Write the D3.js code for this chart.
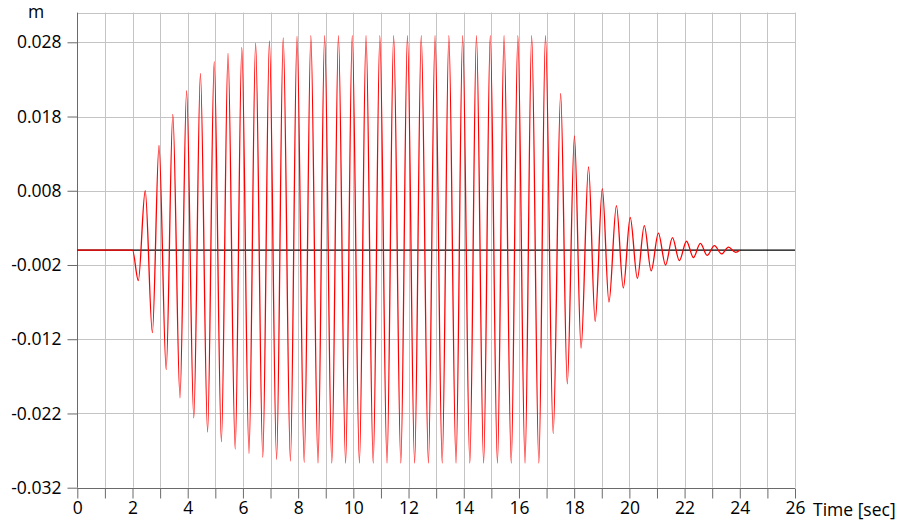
<!DOCTYPE html>
<meta charset="utf-8">
<style>
body { margin: 0; background: #fff; }
.tick text, .lbl { font-family: "Open Sans", sans-serif; font-size: 17.5px; fill: #000; }
.grid line { stroke: #c4c4c4; stroke-width: 1; }
.axis path, .axis line { stroke: #6a6a6a; }
</style>
<svg width="898" height="521"></svg>
<script src="https://cdn.jsdelivr.net/npm/d3@7"></script>
<script>
// displacement record: rest, then extrema (sec, m)
var restT = [0, 2.00];
var restV = [0, 0];
var peakT = [2.46, 2.96, 3.46, 3.96, 4.46, 4.96, 5.46, 5.96, 6.46, 6.96, 7.46, 7.96, 8.46, 8.96,
             9.46, 9.96, 10.46, 10.96, 11.46, 11.96, 12.46, 12.96, 13.46, 13.96, 14.46, 14.96,
             15.46, 15.96, 16.46, 16.96,
             17.51, 18.01, 18.52, 19.02, 19.53, 20.03, 20.54, 21.05, 21.56, 22.07, 22.57, 23.08, 23.59];
var peakV = [0.0080, 0.0141, 0.0183, 0.0215, 0.0238, 0.0254, 0.0265, 0.0273, 0.0279, 0.0282, 0.0286, 0.0288, 0.0289, 0.0289,
             0.0289, 0.0289, 0.0289, 0.0289, 0.0289, 0.0289, 0.0289, 0.0289, 0.0289, 0.0289, 0.0289, 0.0289,
             0.0289, 0.0289, 0.0289, 0.0289,
             0.0211, 0.0154, 0.0112, 0.0083, 0.0060, 0.0044, 0.0033, 0.0023, 0.0017, 0.0012, 0.0009, 0.0006, 0.0004];
var troughT = [2.21, 2.72, 3.22, 3.72, 4.22, 4.72, 5.22, 5.72, 6.22, 6.72, 7.22, 7.72, 8.22, 8.72,
               9.22, 9.72, 10.22, 10.72, 11.22, 11.72, 12.22, 12.72, 13.22, 13.72, 14.22, 14.72,
               15.22, 15.72, 16.22, 16.72,
               17.24, 17.75, 18.25, 18.76, 19.26, 19.78, 20.29, 20.79, 21.31, 21.81, 22.32, 22.82, 23.34, 23.85];
var troughV = [-0.0041, -0.0111, -0.0161, -0.0199, -0.0226, -0.0245, -0.0258, -0.0268, -0.0274, -0.0279, -0.0282, -0.0284, -0.0286, -0.0287,
               -0.0287, -0.0287, -0.0287, -0.0287, -0.0287, -0.0287, -0.0287, -0.0287, -0.0287, -0.0287, -0.0287, -0.0287,
               -0.0287, -0.0287, -0.0287, -0.0287,
               -0.0247, -0.0180, -0.0132, -0.0096, -0.0070, -0.0051, -0.0038, -0.0028, -0.0020, -0.0014, -0.0010, -0.0007, -0.0005, -0.0003];
var endT = [24.00];
var endV = [0];

var yTicks = [-0.032, -0.022, -0.012, -0.002, 0.008, 0.018, 0.028];

var svg = d3.select("svg");
var x = d3.scaleLinear().domain([0, 26]).range([77.3, 795]);
var y = d3.scaleLinear().domain([-0.032, 0.032]).range([487.7, 12.6]);

// merge all points in time order
var pts = [];
function add(T, V) { T.forEach(function(t, i) { pts.push([t, V[i]]); }); }
add(restT, restV); add(peakT, peakV); add(troughT, troughV); add(endT, endV);
pts.sort(function(a, b) { return a[0] - b[0]; });

// grid
var grid = svg.append("g").attr("class", "grid");
grid.selectAll(".vx").data(d3.range(1, 27)).enter().append("line")
    .attr("x1", function(d) { return Math.round(x(d)) + 0.5; })
    .attr("x2", function(d) { return Math.round(x(d)) + 0.5; })
    .attr("y1", y(0.032)).attr("y2", y(-0.032));
grid.selectAll(".hy").data(yTicks.concat([0.032])).enter().append("line")
    .attr("y1", function(d) { return Math.round(y(d)) + 0.5; })
    .attr("y2", function(d) { return Math.round(y(d)) + 0.5; })
    .attr("x1", x(0)).attr("x2", x(26));

// axes
var xAxis = d3.axisBottom(x).tickValues(d3.range(0, 27)).tickSize(10).tickPadding(3)
    .tickFormat(function(d) { return d % 2 === 0 ? d : ""; });
svg.append("g").attr("class", "axis")
    .attr("transform", "translate(0," + (Math.round(y(-0.032)) + 0.5) + ")")
    .call(xAxis)
    .call(function(g) { g.select(".domain").attr("d", "M" + x(0) + ",0H" + x(26)); });

var yAxis = d3.axisLeft(y).tickValues(yTicks).tickSize(10).tickPadding(6)
    .tickFormat(function(d) { return d3.format(".3f")(d).replace("\u2212", "-"); });
svg.append("g").attr("class", "axis")
    .attr("transform", "translate(" + (Math.round(x(0)) + 0.5) + ",0)")
    .call(yAxis)
    .call(function(g) { g.select(".domain").attr("d", "M0," + y(-0.032) + "V" + y(0.032)); });

svg.selectAll(".tick text").attr("fill", "#000");

// zero line
svg.append("line")
    .attr("x1", x(0)).attr("x2", x(26))
    .attr("y1", y(0)).attr("y2", y(0))
    .attr("stroke", "#000").attr("stroke-width", 1.3);

// displacement
var line = d3.line()
    .x(function(d) { return x(d[0]); })
    .y(function(d) { return y(d[1]); })
    .curve(d3.curveMonotoneX);
svg.append("path").datum(pts)
    .attr("d", line)
    .attr("fill", "none")
    .attr("stroke", "#ff0000")
    .attr("stroke-width", 1.3);

// labels
svg.append("text").attr("class", "lbl").attr("x", 36).attr("y", 18).attr("text-anchor", "middle").text("m");
svg.append("text").attr("class", "lbl").attr("x", 813).attr("y", 516).text("Time [sec]");
</script>
